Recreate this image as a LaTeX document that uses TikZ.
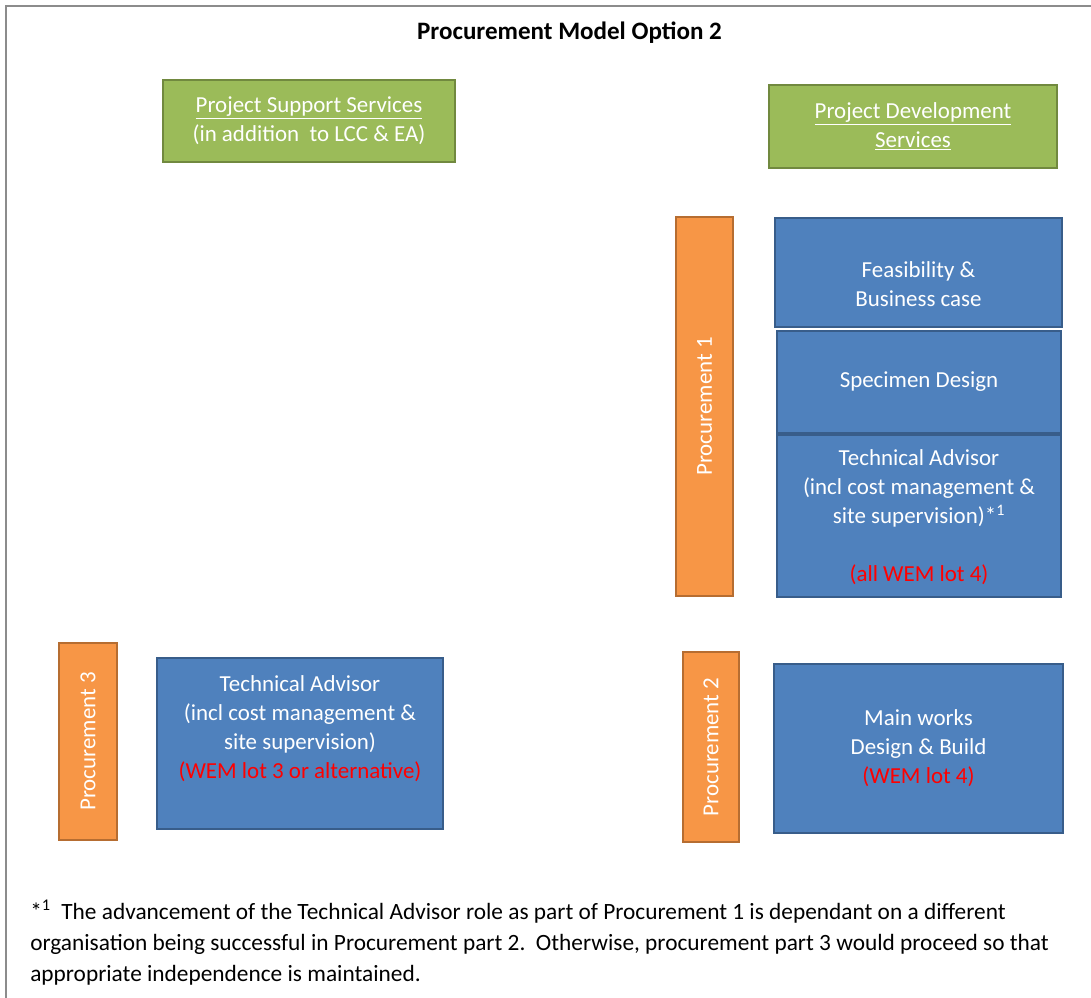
\documentclass[tikz,border=0pt]{standalone}
\usepackage{fontspec}
\setmainfont{Carlito}
\definecolor{gfill}{HTML}{9BBB59}
\definecolor{gdraw}{HTML}{71893F}
\definecolor{bfill}{HTML}{4F81BD}
\definecolor{bdraw}{HTML}{385D8A}
\definecolor{ofill}{HTML}{F79646}
\definecolor{odraw}{HTML}{B66D31}
\definecolor{wemred}{HTML}{FF0000}
\definecolor{framegray}{HTML}{8C8C8C}
\begin{document}
\begin{tikzpicture}[x=0.75pt,y=-0.75pt,
  box/.style={rectangle, line width=2.2pt, inner sep=0pt, text=white, align=center,
    font=\fontsize{17.2}{21.75}\selectfont},
  boxtext/.style={inner sep=0pt, text=white, align=center, font=\fontsize{17.2}{21.75}\selectfont},
  greenbox/.style={box, fill=gfill, draw=gdraw},
  bluebox/.style={box, fill=bfill, draw=bdraw},
  orangebar/.style={box, fill=ofill, draw=odraw},
  barlabel/.style={rotate=90, text=white, inner sep=0pt, font=\fontsize{17.2}{21.75}\selectfont}]
\useasboundingbox (0,0) rectangle (1091,998);
\fill[white] (0,0) rectangle (1091,998);
% frame
\coordinate (ftl) at (6,6);
\coordinate (ftr) at (1091,6);
\coordinate (fbl) at (6,998);
\draw[framegray, line width=1.5pt] (fbl) -- (ftl) -- (ftr);
% title
\node[font=\fontsize{18.8}{22}\selectfont\bfseries] (title) at (569.5,33) {Procurement Model Option 2};
% green boxes
\node[greenbox, minimum width=292*0.75pt, minimum height=82*0.75pt] (pss) at (309,121)
  {\underline{Project Support Services}\\(in addition\ \ to LCC \& EA)};
\node[greenbox, minimum width=288*0.75pt, minimum height=83*0.75pt] (pds) at (913,126.5)
  {\underline{Project Development}\\\underline{Services}};
% procurement 1
\node[orangebar, minimum width=57*0.75pt, minimum height=379*0.75pt] (p1) at (704.5,406.5) {};
\node[barlabel] (p1t) at (p1) {Procurement 1};
\node[bluebox, minimum width=287*0.75pt, minimum height=109*0.75pt] (feas) at (918.5,272.5) {};
\node[boxtext] (feast) at (918.5,284.5) {Feasibility \&\\Business case};
\node[bluebox, minimum width=284*0.75pt, minimum height=102*0.75pt] (spec) at (919,382)
  {Specimen Design};
\node[bluebox, minimum width=284*0.75pt, minimum height=162*0.75pt] (ta1) at (919,516) {};
\node[boxtext] (ta1t) at (919,517)
  {Technical Advisor\\(incl cost management \&\\site supervision)*\textsuperscript{1}\\\mbox{}\\{\color{wemred}(all WEM lot 4)}};
% procurement 3
\node[orangebar, minimum width=58*0.75pt, minimum height=197*0.75pt] (p3) at (88,741.5) {};
\node[barlabel] (p3t) at (p3) {Procurement 3};
\node[bluebox, minimum width=286*0.75pt, minimum height=171*0.75pt] (ta3) at (300,743.5) {};
\node[boxtext] (ta3t) at (300,729)
  {Technical Advisor\\(incl cost management \&\\site supervision)\\{\color{wemred}(WEM lot 3 or alternative)}};
% procurement 2
\node[orangebar, minimum width=56*0.75pt, minimum height=190*0.75pt] (p2) at (711,747) {};
\node[barlabel] (p2t) at (p2) {Procurement 2};
\node[bluebox, minimum width=289*0.75pt, minimum height=169*0.75pt] (mw) at (918.5,748.5) {};
\node[boxtext] (mwt) at (918.5,748)
  {Main works\\Design \& Build\\{\color{wemred}(WEM lot 4)}};
% footnote
\node[anchor=north west, inner sep=0pt, align=left, font=\fontsize{17.5}{23.25}\selectfont] (fn) at (30,900)
  {*\textsuperscript{1}\ \ The advancement of the Technical Advisor role as part of Procurement 1 is dependant on a different\\
   organisation being successful in Procurement part 2.\ \ Otherwise, procurement part 3 would proceed so that\\
   appropriate independence is maintained.};
\end{tikzpicture}
\end{document}
